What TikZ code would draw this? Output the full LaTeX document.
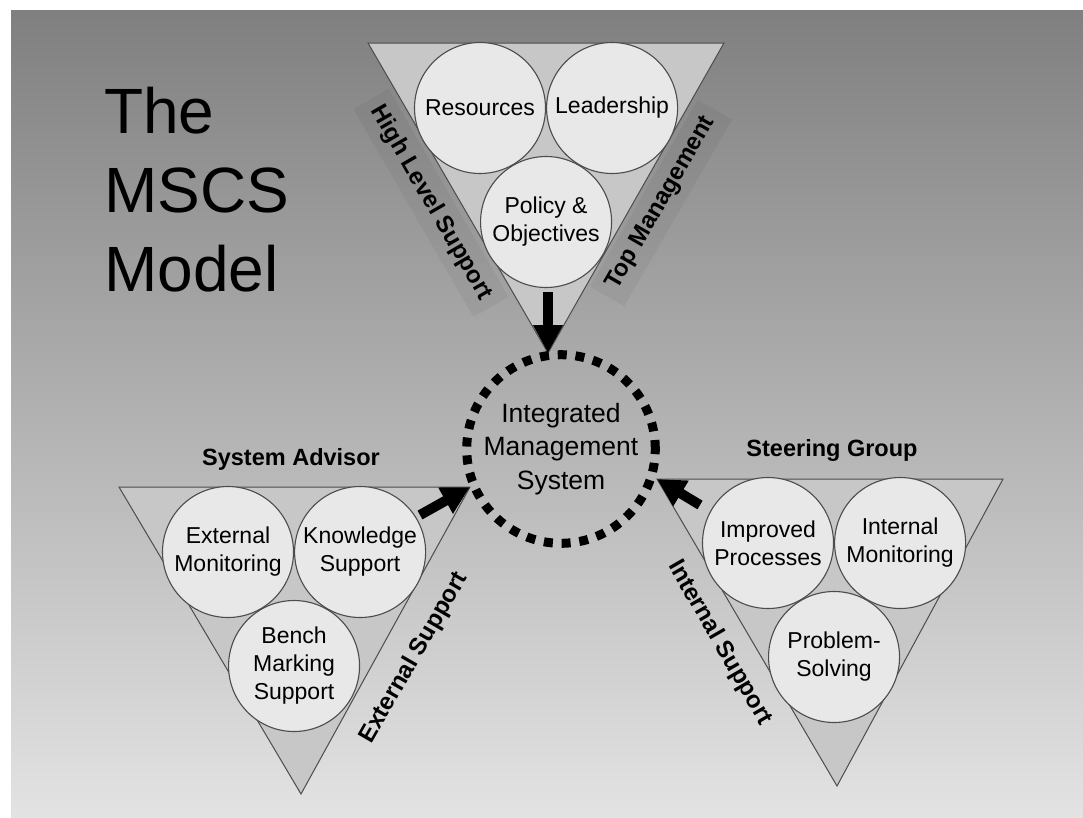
\documentclass[tikz,border=0pt]{standalone}
\usepackage{fontspec}
\setmainfont{Liberation Sans}
\usetikzlibrary{arrows.meta,positioning,calc}
\definecolor{bgtop}{gray}{0.50}
\definecolor{bgbottom}{gray}{0.89}
\definecolor{trifill}{gray}{0.78}
\definecolor{ballfill}{gray}{0.91}
\definecolor{edgegray}{gray}{0.30}
\tikzstyle{supptri} = [draw=edgegray, fill=trifill, line width=1pt]
\tikzstyle{ball} = [circle, draw=edgegray, fill=ballfill, line width=1.1pt, minimum size=131pt,
  inner sep=0pt, align=center, font=\fontsize{23}{28}\selectfont]
\tikzstyle{imsring} = [circle, draw=black, line width=9pt, dash pattern=on 9pt off 8.8pt,
  minimum size=176pt, align=center, font=\fontsize{26.5}{33.5}\selectfont]
\tikzstyle{bigarrow} = [draw=black, line width=10pt, -{Triangle[width=28pt,length=28pt]}]
\tikzstyle{grouphead} = [font=\fontsize{23.5}{28}\selectfont\bfseries, anchor=base]
\tikzstyle{sidelabel} = [font=\fontsize{24}{28}\selectfont\bfseries, inner sep=2pt]
\tikzstyle{sideband} = [fill=black, fill opacity=0.045, text opacity=1, inner xsep=10pt, inner ysep=9pt]
\newcommand{\supportgroup}[4]{% #1: group name; #2: left corner; #3: right corner; #4: lower corner
  \coordinate (#1-l) at #2;
  \coordinate (#1-r) at #3;
  \coordinate (#1-b) at #4;
  \draw[supptri] (#1-l) -- (#1-r) -- (#1-b) -- cycle;
}
\newcommand{\ballstack}[7]{% #1-#3: ball names; #4: centre of upper left ball; #5-#7: texts
  \node[ball] (#1) at #4 {#5};
  \node[ball, right=0pt of #1] (#2) {#6};
  \node[ball] (#3) at ($(#1)!0.5!(#2) + (0,114)$) {#7};
}

\begin{document}
\begin{tikzpicture}[x=1pt, y=-1pt]
  \useasboundingbox (0,0) rectangle (1083,817);
  \fill[white] (0,0) rectangle (1083,817);
  \shade[top color=bgtop, bottom color=bgbottom] (11,10) rectangle (1083,817);
  % title
  \node[anchor=north west, inner sep=0pt, align=left, font=\fontsize{64}{79}\selectfont]
    (title) at (104,87) {The\\MSCS\\Model};
  % the three support groups
  \supportgroup{top}{(368,43)}{(724,43)}{(548,353)}
  \supportgroup{adv}{(119,487)}{(470,487)}{(301,794)}
  \supportgroup{steer}{(657,479)}{(1003,479)}{(837,786)}
  \ballstack{res}{lead}{policy}{(480,108)}{Resources}{Leadership}{Policy \&\\Objectives}
  \ballstack{extmon}{know}{bench}{(228,552)}{External\\Monitoring}{Knowledge\\Support}{Bench\\Marking\\Support}
  \ballstack{improv}{intmon}{probsolve}{(768,543)}{Improved\\Processes}{Internal\\Monitoring}{Problem-\\Solving}
  % side labels
  \node[sidelabel, sideband, rotate=-60] (highlvl) at (431,203) {High Level Support};
  \node[sidelabel, sideband, rotate=60] (topmgmt) at (661,203) {Top Management};
  \node[sidelabel, rotate=60] (extsup) at (414,658) {External Support};
  \node[sidelabel, rotate=-60] (intsup) at (720,643) {Internal Support};
  \node[grouphead] (sysadv) at (291,465) {System Advisor};
  \node[grouphead] (steering) at (832,456) {Steering Group};
  % centre
  \node[imsring] (ims) at (561,449) {Integrated\\Management\\System};
  \coordinate (top-tail) at (548,292);
  \coordinate (adv-tail) at (420,515);
  \coordinate (steer-tail) at (700,505);
  \draw[bigarrow] (top-tail) -- (top-b);
  \draw[bigarrow] (adv-tail) -- (adv-r);
  \draw[bigarrow] (steer-tail) -- (steer-l);
\end{tikzpicture}
\end{document}
